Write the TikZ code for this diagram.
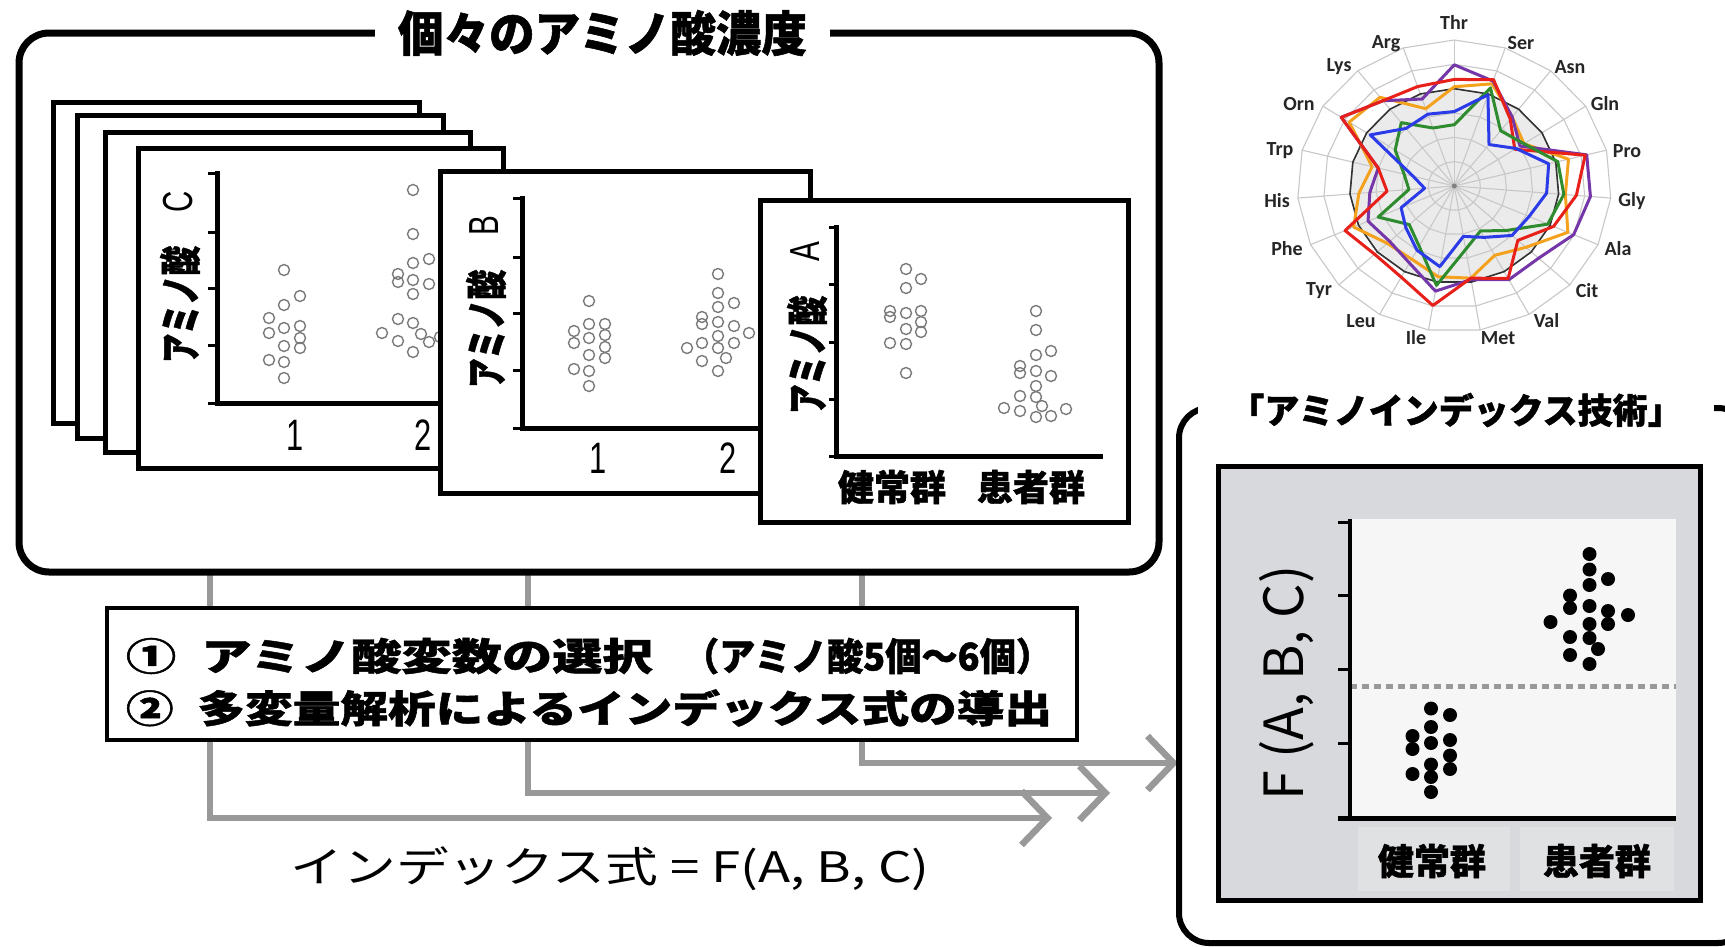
\documentclass[tikz,border=0pt]{standalone}
\usepackage{fontspec}
\usepackage{graphicx}
\usetikzlibrary{arrows.meta}
\newfontfamily\jp{Noto Sans CJK JP}[BoldFeatures={FakeBold=1.2}]
\newfontfamily\labfont{Carlito}
\newfontfamily\latin{Liberation Sans}
\definecolor{rred}{HTML}{E8201A}
\definecolor{rorange}{HTML}{F4A21E}
\definecolor{rpurple}{HTML}{7436A8}
\definecolor{rgreen}{HTML}{2E8B2E}
\definecolor{rblue}{HTML}{2B3BE8}
\definecolor{gridgray}{HTML}{C8C8C8}
\definecolor{panelgray}{HTML}{D8D9DC}
\definecolor{bandgray}{HTML}{E0E1E3}
\definecolor{plotbg}{HTML}{F6F6F6}
\definecolor{radfill}{HTML}{EBEBEB}
\definecolor{arrowgray}{HTML}{999999}
\definecolor{circgray}{HTML}{7A7A7A}
\newcommand{\radarring}[2]{\draw[#1] ({1454.3},{186-146*#2}) \foreach \k in {1,...,18}{ -- ({1454.3+157*#2*cos(90-360/19*\k)},{186-146*#2*sin(90-360/19*\k)})} -- cycle;}
\newcommand{\radarpoly}[2]{\foreach \v [count=\i from 0] in {#2}{\coordinate (rp\i) at ({1454.3+157*\v*cos(90-360/19*\i)},{186-146*\v*sin(90-360/19*\i)});}\draw[#1] (rp0) \foreach \k in {1,...,18}{ -- (rp\k)} -- cycle;}
\newcommand{\aminolabel}[1]{\resizebox{172pt}{\height}{\fontsize{42}{42}\selectfont{\bfseries アミノ酸}\hspace{48pt}\raisebox{4pt}{\latin\fontsize{42}{42}\selectfont #1}}}
\newcommand{\ticknum}[1]{\scalebox{0.7}[1]{\latin\fontsize{44}{44}\selectfont #1}}
\begin{document}
\begin{tikzpicture}[x=1pt,y=-1pt,
  card/.style={draw, fill=white, line width=5pt, inner sep=0pt},
  axisln/.style={line width=5pt},
  tickln/.style={line width=3pt},
  ocirc/.style={draw=circgray, line width=1.4pt},
  bdot/.style={fill=black},
  garrow/.style={draw=arrowgray, line width=6.5pt, -{Straight Barb[length=26pt,width=54pt]}},
  gridln/.style={draw=gridgray, line width=1.1pt},
  radln/.style={line width=3pt, line join=round},
  radlab/.style={font=\labfont\bfseries\fontsize{20}{20}\selectfont, text=black!85, inner sep=0pt},
  jpb/.style={inner sep=0pt, font=\jp\bfseries},
  jpr/.style={inner sep=0pt, font=\jp}
]
\useasboundingbox (0,0) rectangle (1725,946);
\clip (0,0) rectangle (1725,946);
\fill[white] (0,0) rectangle (1725,946);

% ---------- radar chart ----------
\radarring{fill=radfill, draw=none}{4/6}
\foreach \l in {1,...,6}{\radarring{gridln}{\l/6}}
\foreach \k in {0,...,18}{\draw[gridln] (1454.3,186) -- ({1454.3+157*cos(90-360/19*\k)},{186-146*sin(90-360/19*\k)});}
\fill[gray] (1454.3,186) circle[radius=2.5pt];
\radarring{draw=black!80, line width=1.6pt}{4/6}
\radarpoly{radln, rorange}{.68,.74,.6,.53,.75,.71,.79,.62,.54,.64,.63,.57,.58,.7,.61,.54,.8,.77,.56}
\radarpoly{radln, rpurple}{.83,.76,.6,.5,.87,.87,.83,.73,.73,.65,.73,.6,.56,.6,.54,.5,.86,.74,.63}
\radarpoly{radln, rred}{.73,.77,.58,.46,.86,.78,.69,.55,.72,.64,.83,.71,.69,.76,.43,.5,.86,.74,.72}
\radarpoly{radln, rgreen}{.42,.71,.48,.53,.68,.70,.65,.45,.35,.44,.69,.47,.39,.53,.29,.33,.45,.55,.42}
\radarpoly{radln, rblue}{.51,.66,.36,.47,.62,.59,.52,.5,.4,.35,.56,.5,.42,.37,.19,.27,.64,.5,.52}
\foreach \t/\x/\y in {Thr/1454/22, Ser/1521/43.5, Asn/1570/67, Gln/1605/104, Pro/1627/151, Gly/1632/201, Ala/1618/249, Cit/1587/291, Val/1546.5/321, Met/1498/338, Ile/1416/338, Leu/1361/321, Tyr/1319/291, Phe/1287/249, His/1277/201, Trp/1280/151, Orn/1299/104, Lys/1339/67, Arg/1386/43.5}
  {\node[radlab] (lab\t) at (\x,\y) {\t};}

% ---------- gray connectors ----------
\coordinate (s1) at (210,572); \coordinate (e1) at (1052,818);
\coordinate (s2) at (528,572); \coordinate (e2) at (1110,793);
\coordinate (s3) at (862,572); \coordinate (e3) at (1178,763);
\draw[garrow] (s1) |- (e1);
\draw[garrow] (s2) |- (e2);
\draw[garrow] (s3) |- (e3);

% ---------- main box ----------
\node[draw, line width=7pt, rounded corners=30pt, minimum width=1140pt, minimum height=539pt, inner sep=0pt] (conc) at (589,302.5) {};
\node[fill=white, minimum width=455pt, minimum height=56pt, inner sep=0pt] (concT) at (602.5,33)
  {\resizebox{409pt}{\height}{\jp\bfseries\fontsize{48}{48}\selectfont 個々のアミノ酸濃度}};

% stacked blank cards
\node[card, minimum width=366pt, minimum height=321pt] (card1) at (236,262.5) {};
\node[card, minimum width=366pt, minimum height=323pt] (card2) at (260,276.5) {};
\node[card, minimum width=365pt, minimum height=320pt] (card3) at (287.5,292) {};

% card C
\node[card, minimum width=365pt, minimum height=320pt] (cardC) at (320.5,308) {};
\foreach \y in {173,232,288,345,403}{\draw[tickln] (208,\y) -- (217,\y);}
\draw[axisln] (217,171) -- (217,403) -- (500,403);
\node[jpr, rotate=90] (labC) at (180,277) {\aminolabel{C}};
\node[jpr] (c1) at (295,435) {\ticknum{1}};
\node[jpr] (c2) at (423,435) {\ticknum{2}};
\foreach \x/\y in {284/270,300/296,284/305,269/318,284/328,300/326,269/333,300/338,284/346,300/348,269/360,284/362,284/378,
  413/190,413/234,413/263,429/259,398/274,398/282,413/280,429/284,413/294,398/319,413/323,382/333,421/334,398/341,429/342,413/352,440/337}
  {\draw[ocirc] (\x,\y) circle[radius=5.5pt];}

% card B
\node[card, minimum width=370pt, minimum height=322pt] (cardB) at (625,332) {};
\foreach \y in {198,257,313,370,428}{\draw[tickln] (513,\y) -- (522,\y);}
\draw[axisln] (522,196) -- (522,428) -- (808,428);
\node[jpr, rotate=90] (labB) at (486,302) {\aminolabel{B}};
\node[jpr] (b1) at (598,458) {\ticknum{1}};
\node[jpr] (b2) at (728,458) {\ticknum{2}};
\foreach \x/\y in {589/301,574/331,589/324,605/324,574/343,589/338,605/335,605/347,589/355,605/358,574/369,589/371,589/386,
  718/274,718/293,734/303,718/307,702/317,702/324,718/322,734/326,749/333,718/336,702/343,734/343,687/348,718/348,702/361,726/358,718/371}
  {\draw[ocirc] (\x,\y) circle[radius=5.5pt];}

% card A
\node[card, minimum width=368pt, minimum height=322pt] (cardA) at (944,361) {};
\foreach \y in {227,284,342,399,456}{\draw[tickln] (829,\y) -- (836,\y);}
\draw[axisln] (836,225) -- (836,456) -- (1103,456);
\node[jpr, rotate=90] (labA) at (807,328) {\aminolabel{A}};
\node[jpb, font=\jp\bfseries\fontsize{36}{36}\selectfont] (aH) at (892,487) {健常群};
\node[jpb, font=\jp\bfseries\fontsize{36}{36}\selectfont] (aP) at (1031,487) {患者群};
\foreach \x/\y in {906/269,921/279,906/288,890/311,906/313,921/311,890/317,921/322,906/329,921/332,890/343,906/344,906/373,
  1036/311,1036/330,1036/355,1051/351,1020/366,1020/373,1036/371,1051/376,1036/386,1020/396,1036/397,1004/408,1020/411,1042/406,1066/409,1036/417,1051/416}
  {\draw[ocirc] (\x,\y) circle[radius=5.5pt];}

% ---------- middle box ----------
\node[draw, fill=white, line width=4pt, minimum width=970pt, minimum height=132pt, inner sep=0pt] (mid) at (592,674) {};
\node[jpb] (mid1) at (589,656) {\resizebox{926pt}{\height}{\fontsize{38}{38}\selectfont ①\hspace{0.5em}アミノ酸変数の選択\hspace{0.6em}\scalebox{0.72}[1]{（アミノ酸5個～6個）}}};
\node[jpb] (mid2) at (589,708) {\resizebox{926pt}{\height}{\fontsize{38}{38}\selectfont ②\hspace{0.5em}多変量解析によるインデックス式の導出}};

% formula
\node[jpr] (formula) at (610,869) {\resizebox{639pt}{\height}{\fontsize{42}{42}\selectfont インデックス式 = F(A, B, C)}};

% ---------- right box ----------
\node[draw, line width=6pt, rounded corners=30pt, minimum width=569pt, minimum height=535pt, inner sep=0pt] (tech) at (1463.5,675.5) {};
\node[fill=white, minimum width=516pt, minimum height=44pt, inner sep=0pt, font=\jp\bfseries\fontsize{35}{35}\selectfont] (techT) at (1456,410) {「アミノインデックス技術」};

\node[draw, line width=5pt, fill=panelgray, minimum width=482pt, minimum height=434pt, inner sep=0pt] (panel) at (1459,683) {};
\fill[plotbg] (1350,519) rectangle (1676,817);
\fill[bandgray] (1358,827) rectangle (1510,891);
\fill[bandgray] (1520,827) rectangle (1674,891);
\draw[draw=arrowgray, line width=5pt, dash pattern=on 7pt off 5pt] (1350,686) -- (1676,686);
\foreach \y in {522,595,669,743,818}{\draw[tickln] (1338,\y) -- (1350,\y);}
\draw[line width=4pt] (1350,519) -- (1350,818);
\draw[line width=5pt] (1338,818) -- (1676,818);
\foreach \x/\y in {1431/708.5,1450/715,1431/727,1412.5/736,1431/743,1450/740,1412.5/749,1450/755.5,1431/764.5,1450/769,1412.5/774,1431/777,1431/792,
  1589.5/554,1589.5/569.5,1608/579,1589.5/585,1570/595.5,1570/608,1589.5/606,1608/611,1628/615,1550.5/622,1589.5/624,1608/624,1570/637,1589.5/638,1598/649,1570/655,1589.5/664}
  {\fill[bdot] (\x,\y) circle[radius=7pt];}
\node[jpr, rotate=90] (fLab) at (1287,683) {\resizebox{235pt}{\height}{\fontsize{54}{54}\selectfont F (A, B, C)}};
\node[jpb, font=\jp\bfseries\fontsize{36}{36}\selectfont] (pH) at (1432,861) {健常群};
\node[jpb, font=\jp\bfseries\fontsize{36}{36}\selectfont] (pP) at (1597,861) {患者群};
\end{tikzpicture}
\end{document}
